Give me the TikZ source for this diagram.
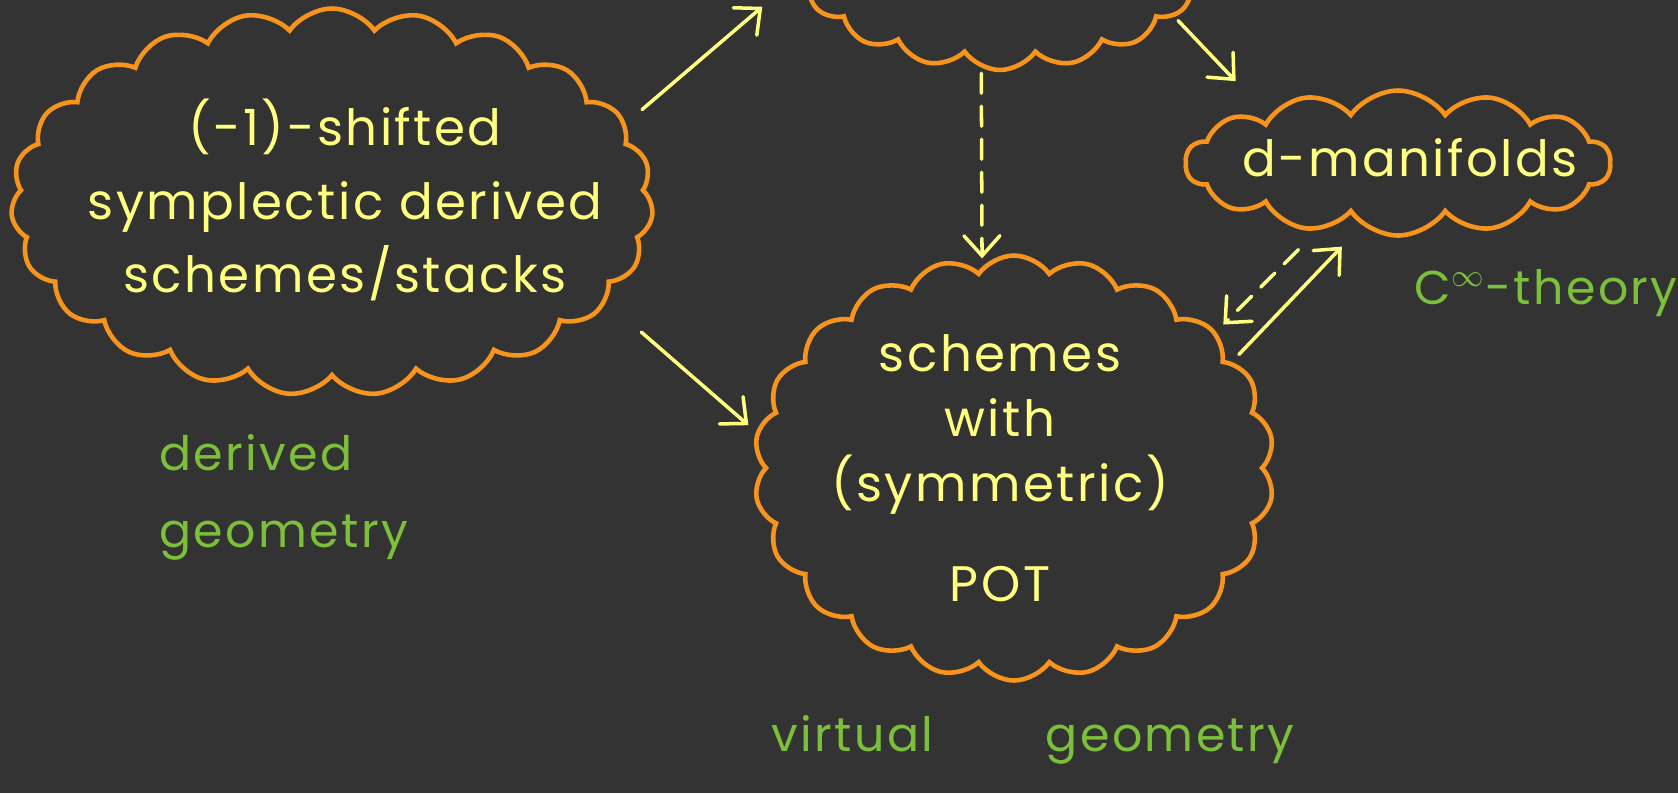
\documentclass[tikz,border=0pt]{standalone}
\usepackage{fontspec}
\setmainfont{Poppins}[LetterSpace=5]
\usepackage{tikz}
\usetikzlibrary{shapes.symbols}
\usetikzlibrary{arrows.meta}
\definecolor{fond}{HTML}{333333}
\definecolor{nuage}{HTML}{F7941D}
\definecolor{jaune}{HTML}{FFFF80}
\definecolor{vert}{HTML}{7CBF3A}

\begin{document}
\begin{tikzpicture}[
        nuage/.style={cloud, cloud ignores aspect, draw=nuage, line width=1.3pt, inner sep=0pt},
        texte/.style={text=jaune, align=center, font=\fontsize{14.2}{21}\selectfont},
        etiquette/.style={text=vert, align=left, font=\fontsize{13.5}{22}\selectfont},
        fleche/.style={draw=jaune, line width=1pt, line cap=round, -{Straight Barb[length=2mm,width=3.6mm,line cap=round]}},
        pointille/.style={fleche, dash pattern=on 2mm off 1.3mm}
    ]
    \fill[fond] (0,0) rectangle (16.78,-7.93);
    \useasboundingbox (0,0) rectangle (16.78,-7.93);

    \node[nuage, cloud puffs=23, cloud puff arc=110, minimum width=6.42cm, minimum height=3.87cm] (gauche) at (3.32,-2.02) {};
    \node[nuage, cloud puffs=18, cloud puff arc=110, minimum width=4.2cm, minimum height=2.4cm] (haut) at (10,0.5) {};
    \node[nuage, cloud puffs=14, cloud puff arc=110, minimum width=4.25cm, minimum height=1.45cm] (dman) at (13.98,-1.63) {};
    \node[nuage, cloud puffs=22, cloud puff arc=110, minimum width=5.2cm, minimum height=4.25cm] (bas) at (10.14,-4.68) {};

    \node[texte] (gaucheT) at (3.45,-2.0) {(-1)-shifted\\symplectic derived\\schemes/stacks};
    \node[texte] (dmanT) at (14.10,-1.58) {d-manifolds};
    \node[texte, font=\fontsize{14.2}{18.5}\selectfont] (basT) at (10.0,-4.68) {schemes\\with\\(symmetric)\\[10pt]POT};

    \node[etiquette, anchor=west] (derivee) at (1.47,-4.97) {derived\\geometry};
    \node[etiquette] (lisse) at (15.46,-2.93) {C$^{\infty}$-theory};
    \node[etiquette] (virtuelle) at (10.33,-7.40) {virtual\hspace{32pt}geometry};

    \draw[fleche, shorten <=2.1mm, shorten >=4.3mm] (gauche.15) -- (haut.188);
    \draw[fleche, shorten <=4.6mm, shorten >=1mm] (gauche.-20) -- (bas.172);
    \draw[fleche, shorten <=0.5mm, shorten >=4.8mm] (haut.-21) -- (dman.160);
    \draw[pointille, shorten <=0.5mm, shorten >=0.8mm] (haut.-99) -- (bas.99);
    \draw[pointille, shorten <=2.7mm, shorten >=1mm] (dman.220) -- (bas.34);
    \draw[fleche, shorten <=1mm, shorten >=2.9mm] (bas.26) -- (dman.240);
\end{tikzpicture}
\end{document}
